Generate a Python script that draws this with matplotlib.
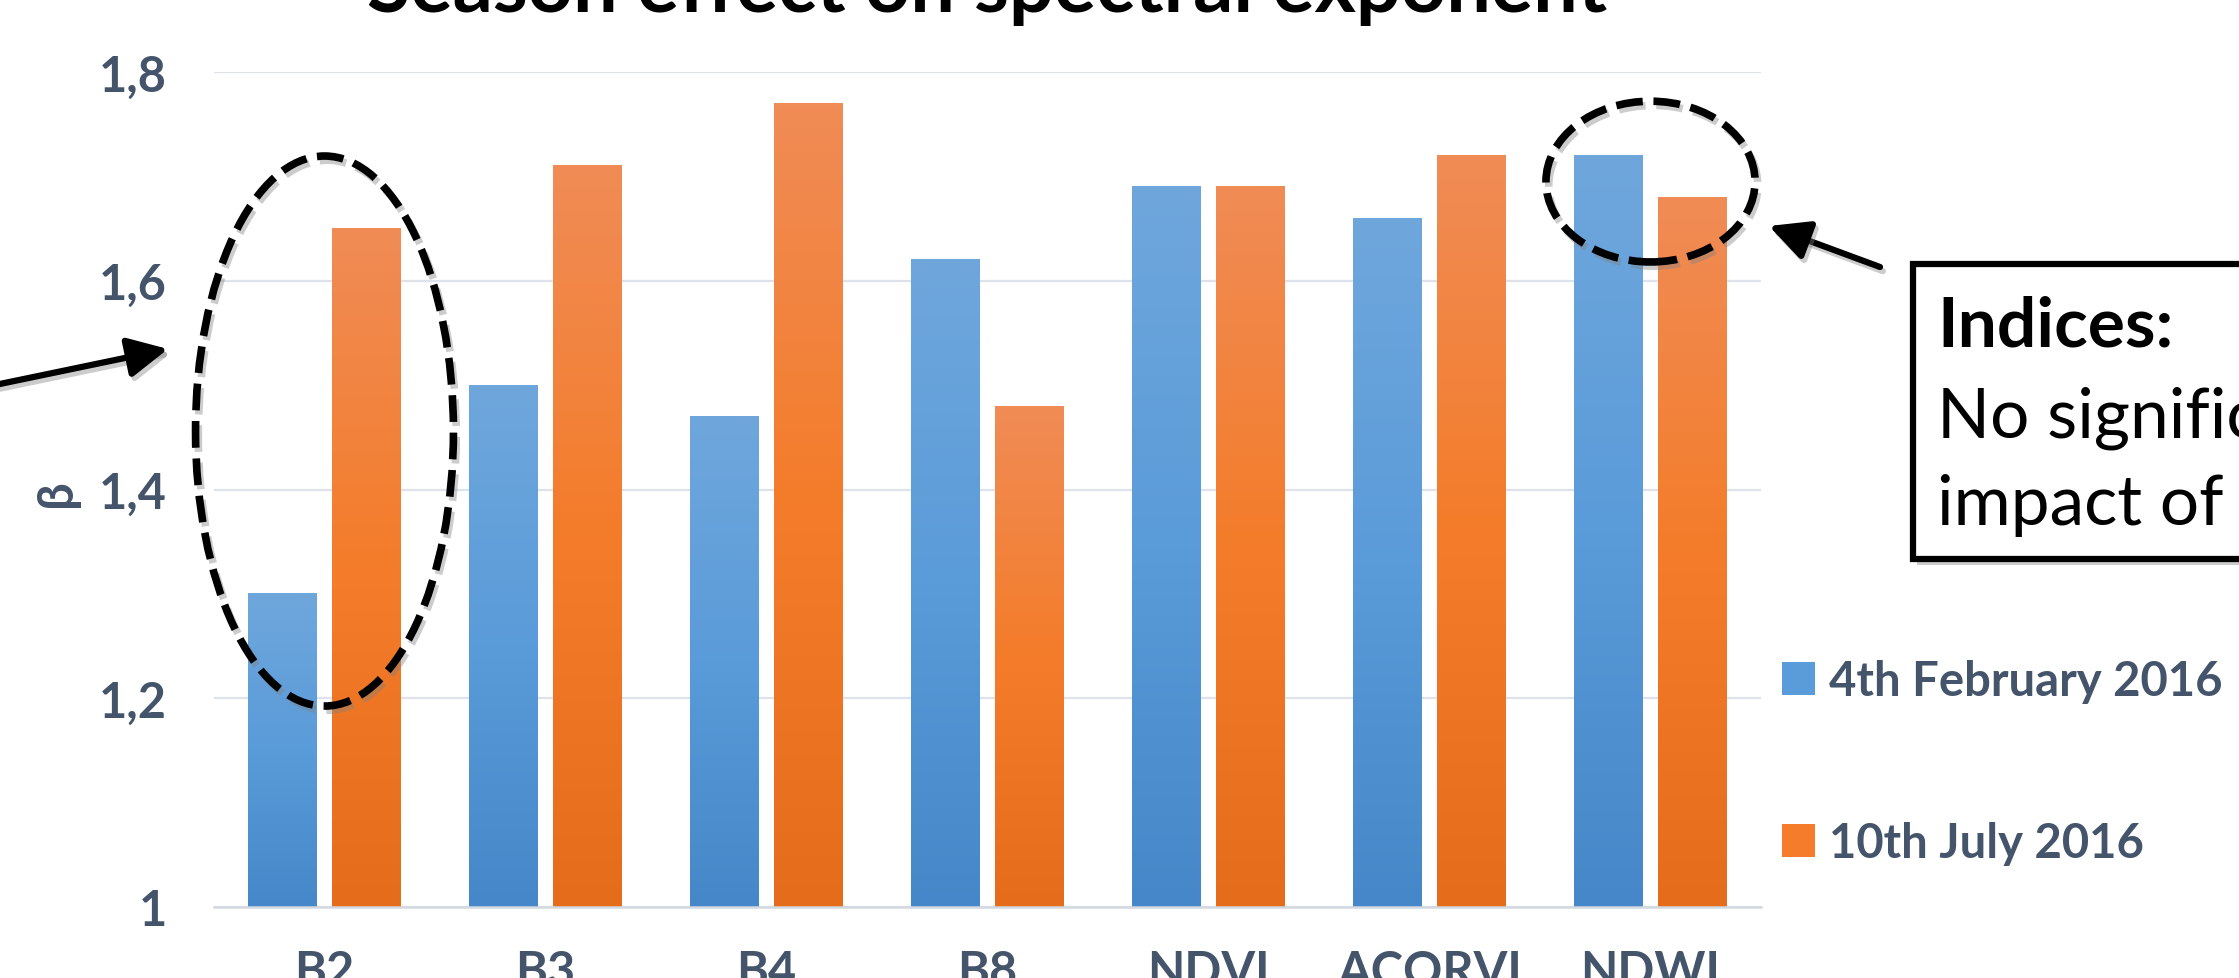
import numpy as np
import matplotlib
matplotlib.use("Agg")
import matplotlib.pyplot as plt
from matplotlib.patches import Ellipse, Rectangle, FancyArrowPatch, Patch
from matplotlib.colors import LinearSegmentedColormap
import matplotlib.patheffects as pe

plt.rcParams['font.family'] = ['Lato', 'DejaVu Sans']

categories = ["B2", "B3", "B4", "B8", "NDVI", "ACORVI", "NDWI"]
feb_2016 = [1.30, 1.50, 1.47, 1.62, 1.69, 1.66, 1.72]
jul_2016 = [1.65, 1.71, 1.77, 1.48, 1.69, 1.72, 1.68]
series_names = ["4th February 2016", "10th July 2016"]
yticks = [1.0, 1.2, 1.4, 1.6, 1.8]
ytick_labels = ["1", "1,2", "1,4", "1,6", "1,8"]

W, H = 2239, 979
TXT = "#44546A"

# gradients: bottom -> top
blue_cmap = LinearSegmentedColormap.from_list("b", ["#4587C8", "#5A9BD9", "#6FA7DC"])
orange_cmap = LinearSegmentedColormap.from_list("o", ["#E46C1A", "#F47C2A", "#F08C56"])

fig = plt.figure(figsize=(W / 100, H / 100), dpi=100)
ax = fig.add_axes([214 / W, (H - 908) / H, 1547 / W, 835 / H])


def px(x, y):
    # figure pixel (from top-left) -> figure fraction
    return x / W, 1 - y / H


x = np.arange(len(categories))
bw = 0.31
off = 0.19
grad = np.linspace(0, 1, 256).reshape(-1, 1)
for vals, dx, cmap in [(feb_2016, -off, blue_cmap), (jul_2016, off, orange_cmap)]:
    bars = ax.bar(x + dx, np.array(vals) - 1, bw, bottom=1, color="none", zorder=2)
    for b in bars:
        x0, y0 = b.get_x(), b.get_y()
        ax.imshow(grad, cmap=cmap, extent=(x0, x0 + b.get_width(), y0, y0 + b.get_height()),
                  aspect="auto", origin="lower", zorder=2)

ax.set_xlim(-0.5, len(categories) - 0.5)
ax.set_ylim(1, 1.8)
ax.set_yticks(yticks)
ax.set_yticklabels(ytick_labels)
ax.set_xticks(x)
ax.set_xticklabels(categories)
ax.grid(axis="y", color="#DEE2EA", lw=1.6, zorder=0)
ax.set_axisbelow(True)
for s in ["top", "right", "left"]:
    ax.spines[s].set_visible(False)
ax.spines["bottom"].set_color("#D3D9E1")
ax.spines["bottom"].set_linewidth(1.8)
ax.tick_params(length=0, labelsize=35, labelcolor=TXT, pad=34)
ax.tick_params(axis="x", pad=30)
for lab in ax.get_xticklabels() + ax.get_yticklabels():
    lab.set_fontweight("bold")

fig.text(*px(57, 493), "β", rotation=90, ha="center", va="center",
         fontsize=35, fontweight="bold", color=TXT)

fig.text(*px(987, 12), "Season effect on spectral exponent", ha="center", va="baseline",
         fontsize=57, fontweight="bold", color="black")

handles = [Patch(facecolor="#5A9BD9"), Patch(facecolor="#F47C2A")]
fig.legend(handles, series_names, loc="center left", bbox_to_anchor=px(1782, 763),
           frameon=False, prop={"weight": "bold", "size": 34},
           labelcolor=TXT, handlelength=0.7, handleheight=0.7, handletextpad=0.3,
           labelspacing=2.5, borderpad=0, borderaxespad=0)

line_shadow = [pe.SimpleLineShadow(offset=(2, -3), shadow_color="gray", alpha=0.4), pe.Normal()]
box_shadow = [pe.SimplePatchShadow(offset=(3, -4), shadow_rgbFace="gray", alpha=0.4), pe.Normal()]

# dashed ellipses
for centre, ew, eh in [((0.0, 1.456), 1.167, 0.527), ((6.0, 1.695), 0.946, 0.154)]:
    e = Ellipse(centre, ew, eh, fill=False, ec="black", lw=5.5,
                ls=(0, (3.5, 1.4)), clip_on=False, zorder=5, path_effects=line_shadow)
    ax.add_patch(e)

# arrows
for tail, head in [((-5, 386), (168, 350)), ((1880, 268), (1769, 227))]:
    arr = FancyArrowPatch(px(*tail), px(*head), transform=fig.transFigure,
                          arrowstyle="-|>,head_length=1.1,head_width=0.55", mutation_scale=22,
                          lw=4.5, color="black", shrinkA=0, shrinkB=0,
                          path_effects=line_shadow)
    fig.add_artist(arr)

# text box
bx0, by0 = px(1913, 560)
bx1, by1 = px(2260, 265)
box = Rectangle((bx0, by0), bx1 - bx0, by1 - by0, transform=fig.transFigure,
                fill=True, fc="white", ec="black", lw=4.5, path_effects=box_shadow)
fig.add_artist(box)
fig.text(*px(1937, 347), "Indices:", fontsize=50, fontweight="bold", color="black", va="baseline")
fig.text(*px(1937, 437), "No significant", fontsize=50, color="black", va="baseline")
fig.text(*px(1937, 525), "impact of season", fontsize=50, color="black", va="baseline")

fig.savefig("out.png", dpi=100)
